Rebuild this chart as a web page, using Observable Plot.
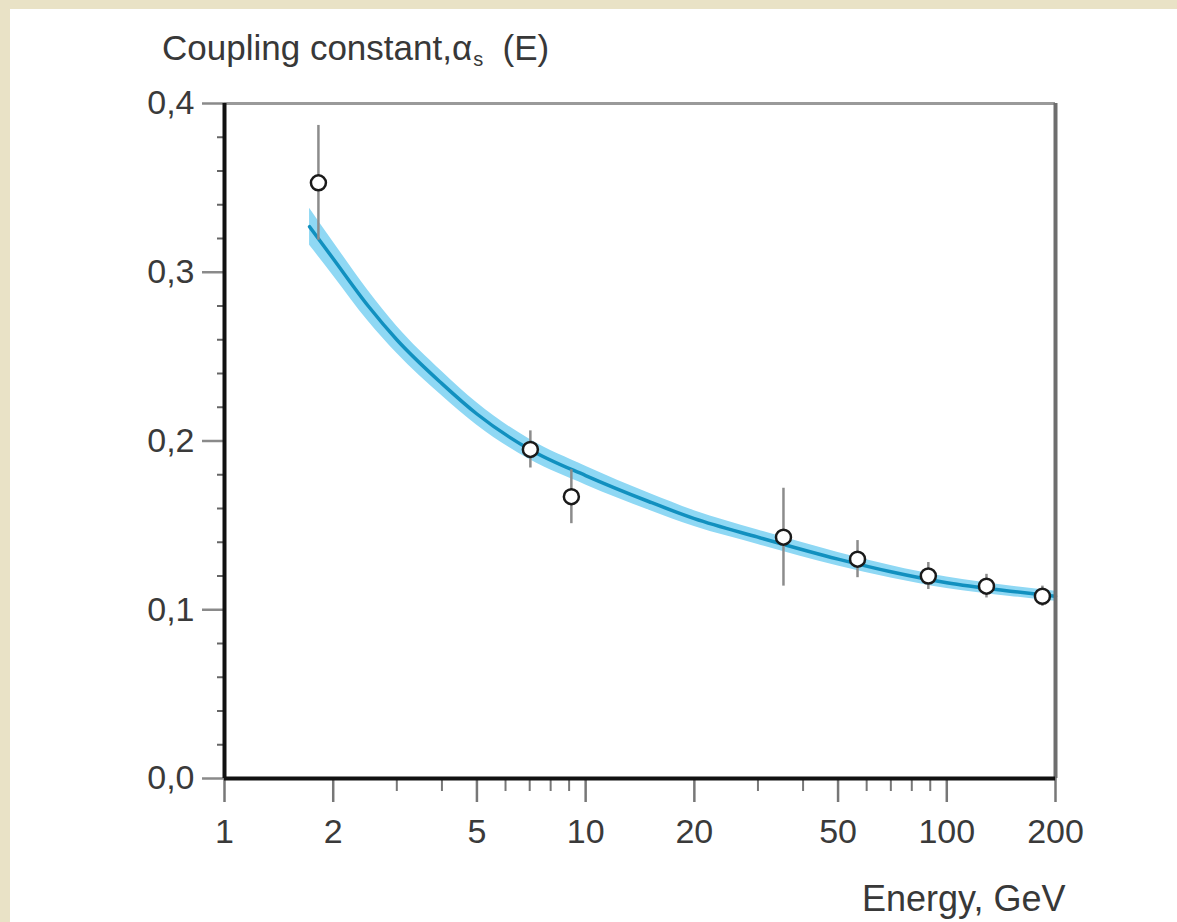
<!DOCTYPE html>
<html>
<head>
<meta charset="utf-8">
<script src="https://cdn.jsdelivr.net/npm/d3@7"></script>
<script src="https://cdn.jsdelivr.net/npm/@observablehq/plot@0.6"></script>
<style>
  html, body { margin: 0; padding: 0; background: #e9e2c6; }
  #wrap { position: relative; width: 1177px; height: 922px; overflow: hidden; }
  #panel { position: absolute; left: 10px; top: 9px; width: 1167px; height: 913px; background: #ffffff; }
  #chart { position: absolute; left: 0; top: 0; }
  .lbl { position: absolute; font-family: "Liberation Sans", Arial, sans-serif; color: #383838; white-space: nowrap; }
  #title { left: 162px; top: 30px; font-size: 35px; line-height: 35px; }
  #title sub { font-size: 20px; vertical-align: -6px; margin-left: 1px; }
  #xlabel { left: 862px; top: 881px; font-size: 36px; line-height: 36px; }
</style>
</head>
<body>
<div id="wrap">
  <div id="panel"></div>
  <div id="chart"></div>
  <div class="lbl" id="title">Coupling constant,α<sub>s</sub>&nbsp;&nbsp;(E)</div>
  <div class="lbl" id="xlabel">Energy, GeV</div>
</div>
<script>
// Axis ticks
const energyTicks = [1, 2, 5, 10, 20, 50, 100, 200];
const energyMinorTicks = [3, 4, 6, 7, 8, 9, 30, 40, 60, 70, 80, 90];
const alphaTicks = [0, 0.1, 0.2, 0.3, 0.4];
const alphaMinorTicks = [0.02, 0.04, 0.06, 0.08, 0.12, 0.14, 0.16, 0.18, 0.22, 0.24, 0.26, 0.28, 0.32, 0.34, 0.36, 0.38];

// Measurements
const pointEnergy = [1.82, 7.03, 9.13, 35.3, 56.6, 88.9, 128.8, 184];
const pointAlpha = [0.353, 0.195, 0.167, 0.143, 0.130, 0.120, 0.114, 0.108];
const pointError = [0.034, 0.011, 0.016, 0.029, 0.011, 0.008, 0.007, 0.006];

// QCD prediction curve and its uncertainty band
const curveEnergy = [1.72, 2, 2.5, 3, 4, 5, 7, 10, 15, 20, 30, 50, 70, 100, 150, 200];
const curveAlpha = [0.327, 0.308, 0.280, 0.260, 0.234, 0.216, 0.195, 0.1795, 0.164, 0.154, 0.143, 0.130, 0.1225, 0.116, 0.111, 0.108];
const curveHalfWidth = [0.011, 0.010, 0.009, 0.008, 0.0072, 0.0066, 0.006, 0.0055, 0.005, 0.0047, 0.0043, 0.004, 0.0037, 0.0034, 0.0031, 0.003];

const curve = curveEnergy.map((E, i) => ({E, A: curveAlpha[i], e: curveHalfWidth[i]}));
const points = pointEnergy.map((E, i) => ({E, A: pointAlpha[i], err: pointError[i]}));

const fmtComma = d => d.toFixed(1).replace(".", ",");

const chart = Plot.plot({
  width: 1177,
  height: 922,
  marginLeft: 224,
  marginRight: 122,
  marginTop: 103,
  marginBottom: 144,
  style: {background: "transparent", fontFamily: "'Liberation Sans', Arial, sans-serif", overflow: "visible"},
  x: {type: "log", domain: [1, 200]},
  y: {domain: [0, 0.4]},
  marks: [
    Plot.areaY(curve, {x: "E", y1: d => d.A - d.e, y2: d => d.A + d.e, fill: "#8fd8f4", curve: "monotone-x"}),
    Plot.line(curve, {x: "E", y: "A", stroke: "#1190bf", strokeWidth: 3.5, curve: "monotone-x"}),
    Plot.ruleX(points, {x: "E", y1: d => d.A - d.err, y2: d => d.A + d.err, stroke: "#8c8c8c", strokeWidth: 2.5}),
    Plot.dot(points, {x: "E", y: "A", r: 7.5, stroke: "#1a1a1a", strokeWidth: 2.5, fill: "white"}),
    // frame
    Plot.ruleY([0.4], {stroke: "#9a9a9a", strokeWidth: 3}),
    Plot.ruleX([200], {stroke: "#6e6e6e", strokeWidth: 4}),
    // axes
    Plot.axisY(alphaMinorTicks, {anchor: "left", tickSize: 7, tickFormat: () => "", stroke: "#666", strokeWidth: 2, label: null}),
    Plot.axisY(alphaTicks, {anchor: "left", tickSize: 22, tickPadding: 8, tickFormat: fmtComma, stroke: "#8a8a8a", fill: "#3a3a3a", strokeWidth: 2.5, fontSize: 34, label: null}),
    Plot.axisX(energyMinorTicks, {anchor: "bottom", tickSize: 13, tickFormat: () => "", stroke: "#777", strokeWidth: 2, label: null}),
    Plot.axisX(energyTicks, {anchor: "bottom", tickSize: 24, tickPadding: 16, tickFormat: d => String(d), stroke: "#777", fill: "#3a3a3a", strokeWidth: 2.5, fontSize: 34, label: null}),
    Plot.ruleX([1], {stroke: "#111", strokeWidth: 4}),
    Plot.ruleY([0], {stroke: "#111", strokeWidth: 4})
  ]
});
document.getElementById("chart").appendChild(chart);
</script>
</body>
</html>
